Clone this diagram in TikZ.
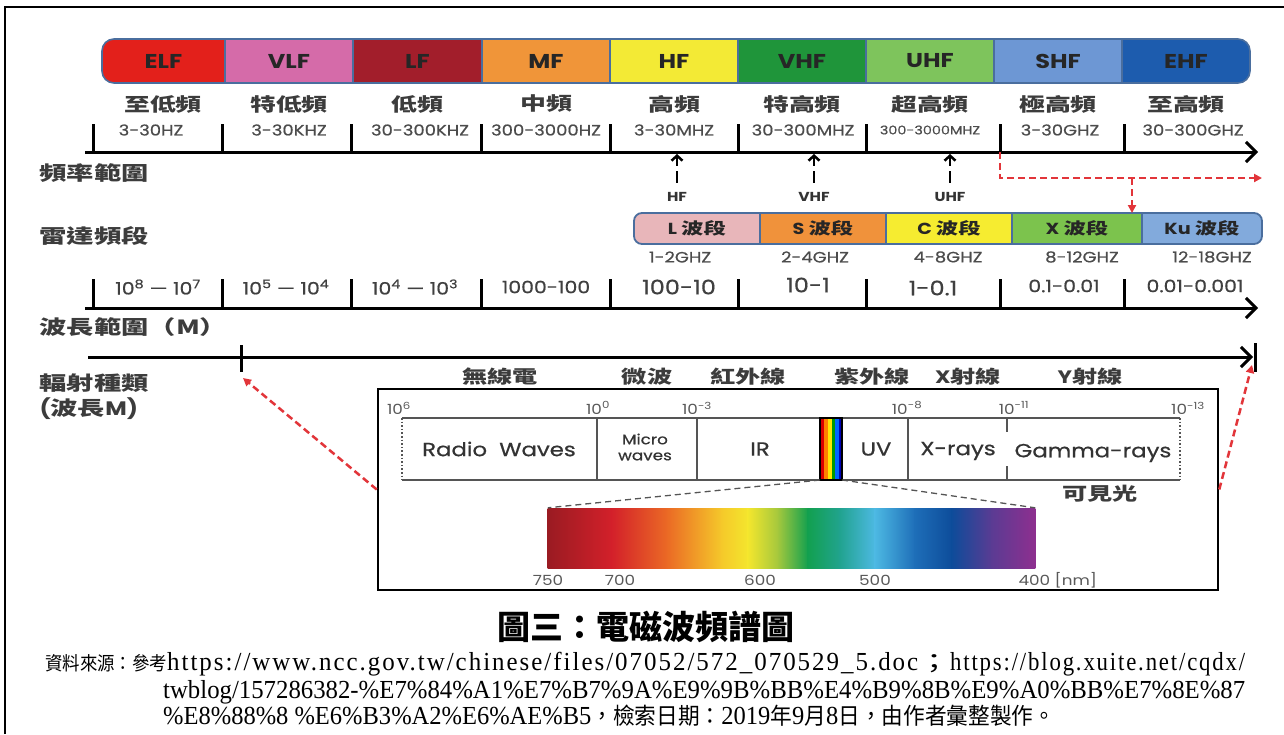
\documentclass[tikz,border=0pt]{standalone}
\usepackage{fontspec}
\usepackage{graphicx}
\usetikzlibrary{arrows.meta}
\newfontfamily\pop[FakeStretch=1.2]{Poppins}
\newfontfamily\popm[FakeStretch=1.2,FakeBold=0.6]{Poppins}
\newfontfamily\cj[FakeStretch=1.4]{Noto Sans CJK TC}
\newfontfamily\cjcap{Noto Sans CJK TC}
\newfontfamily\srcl{Liberation Serif}
\newfontfamily\srcls[LetterSpace=8]{Liberation Serif}
\newfontfamily\srcc{Noto Sans CJK TC}
\newcommand\srccj[1]{{\srcc\fontsize{23}{23}\selectfont #1}}
\newcommand\srccjs[1]{{\srcc\fontsize{19}{19}\selectfont #1}}
\definecolor{cELF}{HTML}{E3201B}
\definecolor{cVLF}{HTML}{D56BA9}
\definecolor{cLF}{HTML}{A21E2B}
\definecolor{cMF}{HTML}{F09539}
\definecolor{cHF}{HTML}{F3EA35}
\definecolor{cVHF}{HTML}{1F953A}
\definecolor{cUHF}{HTML}{7EC45C}
\definecolor{cSHF}{HTML}{6D97D4}
\definecolor{cEHF}{HTML}{1D5CAE}
\definecolor{bandedge}{HTML}{4A6E9E}
\definecolor{rL}{HTML}{E8B6BA}
\definecolor{rS}{HTML}{F0923B}
\definecolor{rC}{HTML}{F6EC30}
\definecolor{rX}{HTML}{7CC34D}
\definecolor{rKu}{HTML}{82AADC}
\definecolor{rdash}{HTML}{E2353A}
\definecolor{txt}{HTML}{3C3C3C}
\definecolor{specline}{HTML}{555555}
\begin{document}
\begin{tikzpicture}[x=1pt,y=-1pt,
  seg/.style={inner sep=0pt, outer sep=0pt, minimum height=44pt},
  rseg/.style={inner sep=0pt, outer sep=0pt, minimum height=31pt, font=\pop\bfseries\fontsize{16}{16}\selectfont, text=black!85},
  bandlbl/.style={font=\pop\bfseries\fontsize{20}{20}\selectfont, text=black!85},
  cnrow/.style={font=\cj\bfseries\fontsize{18.5}{18.5}\selectfont, text=txt},
  frq/.style={font=\popm\fontsize{15}{15}\selectfont, text=black!70},
  ghz/.style={font=\popm\fontsize{15}{15}\selectfont, text=black!70},
  wl/.style={font=\popm\fontsize{17}{17}\selectfont, text=black!75},
  leftlbl/.style={anchor=west, font=\cj\bfseries\fontsize{19.5}{21}\selectfont, text=txt},
  smalllbl/.style={font=\pop\bfseries\fontsize{13}{13}\selectfont, text=black!80},
  toplbl/.style={font=\cj\bfseries\fontsize{18}{18}\selectfont, text=txt},
  expo/.style={font=\pop\fontsize{14}{14}\selectfont, text=black!65},
  speclbl/.style={font=\popm\fontsize{19}{19}\selectfont, text=black!80},
  nmlbl/.style={font=\pop\fontsize{14}{14}\selectfont, text=black!65},
  srcline/.style={anchor=base west, inner sep=0pt},
  axisline/.style={line width=3pt, -{Straight Barb[length=10pt,width=20pt]}},
  tickline/.style={line width=3pt},
  uparrow/.style={line width=2.5pt, dash pattern=on 12pt off 5pt, -{Straight Barb[length=5pt,width=11pt]}},
  reddash/.style={draw=rdash, line width=2.5pt, dash pattern=on 7pt off 4pt, -{Triangle[length=8pt,width=8pt]}},
  specedge/.style={draw=specline, line width=1.6pt},
  greydash/.style={draw=specline, line width=1.3pt, dash pattern=on 6pt off 4pt}
]
\useasboundingbox (0,0) rectangle (1284,734);
\fill[white] (0,0) rectangle (1284,734);
\draw[line width=2pt] (5,734) -- (5,7) -- (1284,7);

% ---------- frequency band ----------
\begin{scope}
\clip[rounded corners=12pt] (102,39) rectangle (1250,83);
\node[seg, fill=cELF, minimum width=123pt] (elf) at (163.5,61) {};
\node[seg, fill=cVLF, minimum width=128pt] (vlf) at (289,61) {};
\node[seg, fill=cLF,  minimum width=129pt] (lf)  at (417.5,61) {};
\node[seg, fill=cMF,  minimum width=128pt] (mf)  at (546,61) {};
\node[seg, fill=cHF,  minimum width=128pt] (hf)  at (674,61) {};
\node[seg, fill=cVHF, minimum width=128pt] (vhf) at (802,61) {};
\node[seg, fill=cUHF, minimum width=128pt] (uhf) at (930,61) {};
\node[seg, fill=cSHF, minimum width=128pt] (shf) at (1058,61) {};
\node[seg, fill=cEHF, minimum width=128pt] (ehf) at (1186,61) {};
\end{scope}
\foreach \n in {vlf,lf,mf,hf,vhf,uhf,shf,ehf} \draw[bandedge, line width=1.2pt] (\n.north west) -- (\n.south west);
\draw[bandedge, line width=1.6pt, rounded corners=12pt] (102,39) rectangle (1250,83);
\node[bandlbl] at (elf) {ELF};
\node[bandlbl] at (vlf) {VLF};
\node[bandlbl] at (lf) {LF};
\node[bandlbl] at (mf) {MF};
\node[bandlbl] at (hf) {HF};
\node[bandlbl] at (vhf) {VHF};
\node[bandlbl] at (uhf) {UHF};
\node[bandlbl] at (shf) {SHF};
\node[bandlbl] at (ehf) {EHF};

% Chinese names
\node[cnrow] (n1) at (163,104) {至低頻};
\node[cnrow] (n2) at (289,104) {特低頻};
\node[cnrow] (n3) at (417,104) {低頻};
\node[cnrow] (n4) at (546,104) {中頻};
\node[cnrow] (n5) at (674,104) {高頻};
\node[cnrow] (n6) at (802,104) {特高頻};
\node[cnrow] (n7) at (930,104) {超高頻};
\node[cnrow] (n8) at (1058,104) {極高頻};
\node[cnrow] (n9) at (1186,104) {至高頻};

% frequency ranges
\node[frq] (f1) at (151,130) {3-30HZ};
\node[frq] (f2) at (289,130) {3-30KHZ};
\node[frq] (f3) at (420,130) {30-300KHZ};
\node[frq] (f4) at (546,130) {300-3000HZ};
\node[frq] (f5) at (674,130) {3-30MHZ};
\node[frq] (f6) at (803,130) {30-300MHZ};
\node[frq, font=\popm\fontsize{12}{12}\selectfont] (f7) at (930,130) {300-3000MHZ};
\node[frq] (f8) at (1060,130) {3-30GHZ};
\node[frq] (f9) at (1193,130) {30-300GHZ};

% axis 1
\coordinate (a1s) at (85,152);
\coordinate (a1e) at (1258,152);
\draw[axisline] (a1s) -- (a1e);
\foreach \x in {93,222,351,481,610,738,866,1000,1124} \draw[tickline] (\x,124) -- (\x,152);
\node[leftlbl] (lab1) at (36,173) {頻率範圍};

% HF / VHF / UHF pointers
\node[smalllbl] (phf) at (677,197) {HF};
\node[smalllbl] (pvhf) at (814,197) {VHF};
\node[smalllbl] (puhf) at (950,197) {UHF};
\coordinate (thf) at (677,154);
\coordinate (tvhf) at (814,154);
\coordinate (tuhf) at (950,154);
\draw[uparrow, shorten <=6pt] (phf.north) -- (thf);
\draw[uparrow, shorten <=6pt] (pvhf.north) -- (tvhf);
\draw[uparrow, shorten <=6pt] (puhf.north) -- (tuhf);

% red dashed pointer to X band
\coordinate (r0) at (1000,152);
\coordinate (r1) at (1000,178);
\coordinate (r2) at (1262,178);
\coordinate (r3) at (1132,178);

% ---------- radar bands ----------
\node[leftlbl] (lab2) at (36,236) {雷達頻段};
\begin{scope}
\clip[rounded corners=8pt] (634,213) rectangle (1262,244);
\node[rseg, fill=rL, minimum width=126pt] (rl) at (697,228.5) {};
\node[rseg, fill=rS, minimum width=126pt] (rs) at (823,228.5) {};
\node[rseg, fill=rC, minimum width=126pt] (rc) at (949,228.5) {};
\node[rseg, fill=rX, minimum width=130pt] (rx) at (1077,228.5) {};
\node[rseg, fill=rKu, minimum width=120pt] (rku) at (1202,228.5) {};
\end{scope}
\foreach \n in {rs,rc,rx,rku} \draw[bandedge, line width=1.2pt] (\n.north west) -- (\n.south west);
\draw[bandedge, line width=1.8pt, rounded corners=8pt] (634,213) rectangle (1262,244);
\node[rseg] at (rl) {L {\cj\bfseries 波段}};
\node[rseg] at (rs) {S {\cj\bfseries 波段}};
\node[rseg] at (rc) {C {\cj\bfseries 波段}};
\node[rseg] at (rx) {X {\cj\bfseries 波段}};
\node[rseg] at (rku) {Ku {\cj\bfseries 波段}};

\draw[reddash] (r0) -- (r1) -- (r2);
\draw[reddash] (r3) -- (rx.north -| r3);

\node[ghz] (g1) at (680,257) {1-2GHZ};
\node[ghz] (g2) at (815,257) {2-4GHZ};
\node[ghz] (g3) at (948,257) {4-8GHZ};
\node[ghz] (g4) at (1082,257) {8-12GHZ};
\node[ghz] (g5) at (1212,257) {12-18GHZ};

% ---------- wavelength ----------
\node[wl] (w1) at (158,287) {10\textsuperscript{8} — 10\textsuperscript{7}};
\node[wl] (w2) at (286,287) {10\textsuperscript{5} — 10\textsuperscript{4}};
\node[wl] (w3) at (415,287) {10\textsuperscript{4} — 10\textsuperscript{3}};
\node[wl] (w4) at (546,287) {1000-100};
\node[wl, font=\popm\fontsize{20}{20}\selectfont] (w5) at (679,287) {100-10};
\node[wl, font=\popm\fontsize{20}{20}\selectfont] (w6) at (808,285) {10-1};
\node[wl, font=\popm\fontsize{20}{20}\selectfont] (w7) at (933,288) {1-0.1};
\node[wl] (w8) at (1064,286) {0.1-0.01};
\node[wl] (w9) at (1195,286) {0.01-0.001};
\coordinate (a2s) at (85,308);
\coordinate (a2e) at (1258,308);
\draw[axisline] (a2s) -- (a2e);
\foreach \x in {93,222,351,481,610,738,866,1000,1124} \draw[tickline] (\x,279) -- (\x,308);
\node[leftlbl] (lab3) at (36,327) {波長範圍（M）};

% ---------- radiation axis ----------
\coordinate (a3s) at (88,357);
\coordinate (a3e) at (1253,357);
\draw[axisline] (a3s) -- (a3e);
\draw[tickline] (1255,343) -- (1255,372);
\draw[tickline] (241,345) -- (241,372);
\coordinate (lt) at (243,378);
\coordinate (rt) at (1252,365);
\node[leftlbl] (lab4) at (36,383) {輻射種類};
\node[leftlbl] (lab5) at (36,409) {{\pop\bfseries (}波長{\pop\bfseries M)}};

\node[toplbl] (t1) at (500,377) {無線電};
\node[toplbl] (t2) at (647,377) {微波};
\node[toplbl] (t3) at (748,377) {紅外線};
\node[toplbl] (t4) at (872,377) {紫外線};
\node[toplbl] (t5) at (968,377) {{\pop\bfseries X}射線};
\node[toplbl] (t6) at (1090,377) {{\pop\bfseries Y}射線};

% inner box
\node[draw, line width=2.5pt, minimum width=840pt, minimum height=201pt, inner sep=0pt] (ibox) at (798,489.5) {};
\draw[reddash] (ibox.west) -- (lt);
\draw[reddash] (ibox.east) -- (rt);

% exponents
\node[expo] (e1) at (399,408) {10\textsuperscript{6}};
\node[expo] (e2) at (598,408) {10\textsuperscript{0}};
\node[expo] (e3) at (697,408) {10\textsuperscript{-3}};
\node[expo] (e4) at (907,408) {10\textsuperscript{-8}};
\node[expo] (e5) at (1014,408) {10\textsuperscript{-11}};
\node[expo] (e6) at (1188,408) {10\textsuperscript{-13}};

% spectrum strip
\draw[specedge] (402,418) -- (1180,418);
\draw[specedge] (402,480) -- (1180,480);
\draw[specedge, dotted] (402,418) -- (402,480);
\draw[specedge, dotted] (1180,418) -- (1180,480);
\foreach \x in {597,697,908} \draw[specedge] (\x,418) -- (\x,480);
\draw[specedge, dash pattern=on 14pt off 34pt on 14pt] (1007,418) -- (1007,480);
% visible rainbow
\fill[red!85!black] (820,418) rectangle (824,480);
\fill[orange] (824,418) rectangle (828,480);
\fill[yellow!90!orange] (828,418) rectangle (832,480);
\fill[green!60!black] (832,418) rectangle (835,480);
\fill[blue!60!cyan] (835,418) rectangle (838.5,480);
\fill[blue!70!black] (838.5,418) rectangle (842,480);
\draw[line width=1.5pt] (820,418) rectangle (842,480);

\node[speclbl] (radio) at (499,449) {Radio\ \ Waves};
\node[speclbl, font=\popm\fontsize{14}{16}\selectfont, align=center] (micro) at (645,447) {Micro\\waves};
\node[speclbl] (ir) at (760,449) {IR};
\node[speclbl] (uv) at (876,449) {UV};
\node[speclbl] (xr) at (958,451) {X-rays};
\node[speclbl] (gr) at (1093,453) {Gamma-rays};
\node[toplbl] (vis) at (1100,494) {可見光};

% gradient bar
\node[inner sep=0pt, minimum width=487pt, minimum height=60pt] (bar) at (791.5,538) {};
\foreach \a/\b/\ca/\cb in {548/612/9A1B22/D3202A, 612/668/D3202A/EB6B25, 668/722/EB6B25/F5C92A, 722/748/F5C92A/F4E62D, 748/778/F4E62D/A4C83D, 778/808/A4C83D/12A04F, 808/840/12A04F/21A38F, 840/875/21A38F/4DB9E3, 875/915/4DB9E3/1E6EB8, 915/952/1E6EB8/0D4C9A, 952/992/0D4C9A/5B3B93, 992/1035/5B3B93/8E2F8F}{
  \definecolor{ga}{HTML}{\ca}\definecolor{gb}{HTML}{\cb}
  \shade[left color=ga, right color=gb] (\a-0.4,508) rectangle (\b+0.4,568);
}
\draw[greydash] (820,480) -- (bar.north west);
\draw[greydash] (842,480) -- (bar.north east);

\node[nmlbl] (l750) at (548,580) {750};
\node[nmlbl] (l700) at (620,580) {700};
\node[nmlbl] (l600) at (760,580) {600};
\node[nmlbl] (l500) at (875,580) {500};
\node[nmlbl, anchor=west] (l400) at (1015,580) {400 [nm]};

% caption
\node[font=\cjcap\bfseries\fontsize{33}{33}\selectfont] (cap) at (646,627) {圖三：電磁波頻譜圖};

% source
\node[srcline] (s1) at (45,670) {\resizebox{122pt}{\height}{\srccjs{資料來源：參考}}\resizebox{751pt}{\height}{\srcls\fontsize{26}{26}\selectfont https://www.ncc.gov.tw/chinese/files/07052/572\_070529\_5.doc}\resizebox{32pt}{\height}{\srccj{；}}\resizebox{295pt}{\height}{\srcls\fontsize{26}{26}\selectfont https://blog.xuite.net/cqdx/}};
\node[srcline] (s2) at (163,698) {\resizebox{1082pt}{\height}{\srcl\fontsize{26}{26}\selectfont twblog/157286382-\%E7\%84\%A1\%E7\%B7\%9A\%E9\%9B\%BB\%E4\%B9\%8B\%E9\%A0\%BB\%E7\%8E\%87}};
\node[srcline] (s3) at (163,724) {\resizebox{892pt}{\height}{\srcl\fontsize{26}{26}\selectfont \%E8\%88\%8 \%E6\%B3\%A2\%E6\%AE\%B5\srccj{，檢索日期：}2019\srccj{年}9\srccj{月}8\srccj{日，由作者彙整製作。}}};
\end{tikzpicture}
\end{document}
